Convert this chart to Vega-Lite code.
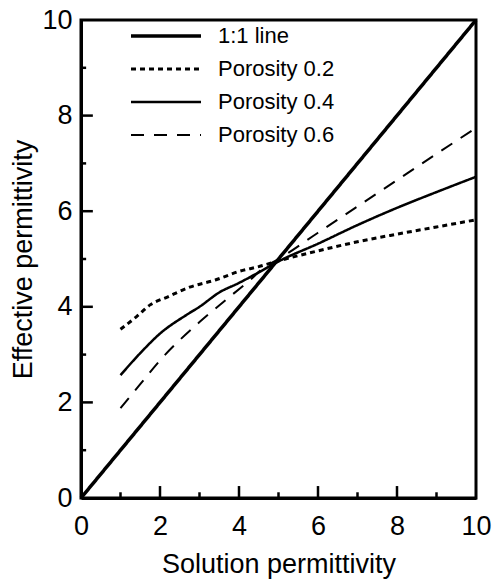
{
  "$schema": "https://vega.github.io/schema/vega-lite/v6.json",
  "autosize": "none",
  "width": 395,
  "height": 478,
  "padding": {"left": 81, "top": 20, "right": 16, "bottom": 83},
  "background": "white",
  "config": {
    "view": {"stroke": "black", "strokeWidth": 3},
    "font": "Liberation Sans",
    "axis": {"domainColor": "black", "domainWidth": 3, "ticks": false, "grid": false, "labelColor": "black", "titleColor": "black", "labelFont": "Liberation Sans", "titleFont": "Liberation Sans", "labelFontSize": 27, "titleFontSize": 27, "titleFontWeight": "normal"}
  },
  "datasets": {
    "curves": [
      {"x": 1, "y": 3.53, "series": "Porosity 0.2"},
      {"x": 1.4, "y": 3.79, "series": "Porosity 0.2"},
      {"x": 1.75, "y": 4.04, "series": "Porosity 0.2"},
      {"x": 2.2, "y": 4.21, "series": "Porosity 0.2"},
      {"x": 2.75, "y": 4.41, "series": "Porosity 0.2"},
      {"x": 3.4, "y": 4.56, "series": "Porosity 0.2"},
      {"x": 4, "y": 4.74, "series": "Porosity 0.2"},
      {"x": 4.5, "y": 4.84, "series": "Porosity 0.2"},
      {"x": 5, "y": 4.96, "series": "Porosity 0.2"},
      {"x": 6, "y": 5.17, "series": "Porosity 0.2"},
      {"x": 7, "y": 5.36, "series": "Porosity 0.2"},
      {"x": 8, "y": 5.52, "series": "Porosity 0.2"},
      {"x": 9, "y": 5.67, "series": "Porosity 0.2"},
      {"x": 10, "y": 5.82, "series": "Porosity 0.2"},
      {"x": 1, "y": 2.57, "series": "Porosity 0.4"},
      {"x": 1.5, "y": 3.03, "series": "Porosity 0.4"},
      {"x": 2, "y": 3.44, "series": "Porosity 0.4"},
      {"x": 2.67, "y": 3.83, "series": "Porosity 0.4"},
      {"x": 3, "y": 4.0, "series": "Porosity 0.4"},
      {"x": 3.5, "y": 4.3, "series": "Porosity 0.4"},
      {"x": 4, "y": 4.5, "series": "Porosity 0.4"},
      {"x": 4.5, "y": 4.72, "series": "Porosity 0.4"},
      {"x": 5, "y": 4.95, "series": "Porosity 0.4"},
      {"x": 6, "y": 5.32, "series": "Porosity 0.4"},
      {"x": 7, "y": 5.71, "series": "Porosity 0.4"},
      {"x": 8, "y": 6.07, "series": "Porosity 0.4"},
      {"x": 9, "y": 6.4, "series": "Porosity 0.4"},
      {"x": 10, "y": 6.72, "series": "Porosity 0.4"},
      {"x": 1, "y": 1.88, "series": "Porosity 0.6"},
      {"x": 1.5, "y": 2.38, "series": "Porosity 0.6"},
      {"x": 2, "y": 2.88, "series": "Porosity 0.6"},
      {"x": 3, "y": 3.68, "series": "Porosity 0.6"},
      {"x": 3.66, "y": 4.14, "series": "Porosity 0.6"},
      {"x": 4.28, "y": 4.56, "series": "Porosity 0.6"},
      {"x": 4.66, "y": 4.84, "series": "Porosity 0.6"},
      {"x": 5, "y": 5.0, "series": "Porosity 0.6"},
      {"x": 6, "y": 5.55, "series": "Porosity 0.6"},
      {"x": 7, "y": 6.1, "series": "Porosity 0.6"},
      {"x": 8, "y": 6.65, "series": "Porosity 0.6"},
      {"x": 9, "y": 7.2, "series": "Porosity 0.6"},
      {"x": 10, "y": 7.74, "series": "Porosity 0.6"}
    ],
    "oneToOne": [
      {"x": 0, "y": 0, "series": "1:1 line"},
      {"x": 10, "y": 10, "series": "1:1 line"}
    ],
    "ticks": [
      {"v": 1, "kind": "minor"},
      {"v": 2, "kind": "major"},
      {"v": 3, "kind": "minor"},
      {"v": 4, "kind": "major"},
      {"v": 5, "kind": "minor"},
      {"v": 6, "kind": "major"},
      {"v": 7, "kind": "minor"},
      {"v": 8, "kind": "major"},
      {"v": 9, "kind": "minor"}
    ]
  },
  "layer": [
    {
      "data": {"name": "curves"},
      "mark": {"type": "line", "color": "black", "clip": true, "interpolate": "monotone"},
      "encoding": {
        "x": {"field": "x", "type": "quantitative", "scale": {"domain": [0, 10], "nice": false, "zero": false},
          "axis": {"values": [0, 2, 4, 6, 8, 10], "labelPadding": 15, "title": "Solution permittivity", "titlePadding": 12, "labelFlush": false, "orient": "bottom"}},
        "y": {"field": "y", "type": "quantitative", "scale": {"domain": [0, 10], "nice": false, "zero": false},
          "axis": {"values": [0, 2, 4, 6, 8, 10], "labelPadding": 9, "title": "Effective permittivity", "titlePadding": 4, "labelFlush": false, "orient": "left"}},
        "strokeDash": {"field": "series", "type": "nominal",
          "scale": {"domain": ["1:1 line", "Porosity 0.2", "Porosity 0.4", "Porosity 0.6"], "range": [[1, 0], [5, 4], [1, 0], [13, 10]]},
          "legend": {"title": null, "orient": "none", "legendX": 48, "legendY": 5, "symbolType": "stroke", "symbolSize": 4900, "symbolStrokeColor": "black", "labelFontSize": 22, "labelFont": "Liberation Sans", "labelColor": "black", "labelOffset": 15, "clipHeight": 22, "rowPadding": 11, "padding": 0}},
        "strokeWidth": {"field": "series", "type": "nominal",
          "scale": {"domain": ["1:1 line", "Porosity 0.2", "Porosity 0.4", "Porosity 0.6"], "range": [3.5, 2, 1.6, 2]},
          "legend": {"title": null, "orient": "none", "legendX": 48, "legendY": 5, "symbolType": "stroke", "symbolSize": 4900, "symbolStrokeColor": "black", "labelFontSize": 22, "labelFont": "Liberation Sans", "labelColor": "black", "labelOffset": 15, "clipHeight": 22, "rowPadding": 11, "padding": 0}}
      }
    },
    {
      "data": {"name": "oneToOne"},
      "mark": {"type": "line", "color": "black"},
      "encoding": {
        "x": {"field": "x", "type": "quantitative"},
        "y": {"field": "y", "type": "quantitative"},
        "strokeDash": {"field": "series", "type": "nominal"},
        "strokeWidth": {"field": "series", "type": "nominal"}
      }
    },
    {
      "data": {"name": "ticks"},
      "transform": [{"filter": "datum.kind === 'major'"}],
      "mark": {"type": "rule", "color": "black", "strokeWidth": 2.5},
      "encoding": {
        "x": {"field": "v", "type": "quantitative"},
        "y": {"datum": 0, "type": "quantitative"},
        "y2": {"datum": 0.25}
      }
    },
    {
      "data": {"name": "ticks"},
      "transform": [{"filter": "datum.kind === 'minor'"}],
      "mark": {"type": "rule", "color": "black", "strokeWidth": 2.5},
      "encoding": {
        "x": {"field": "v", "type": "quantitative"},
        "y": {"datum": 0, "type": "quantitative"},
        "y2": {"datum": 0.12}
      }
    },
    {
      "data": {"name": "ticks"},
      "transform": [{"filter": "datum.kind === 'major'"}],
      "mark": {"type": "rule", "color": "black", "strokeWidth": 2.5},
      "encoding": {
        "y": {"field": "v", "type": "quantitative"},
        "x": {"datum": 0, "type": "quantitative"},
        "x2": {"datum": 0.3}
      }
    },
    {
      "data": {"name": "ticks"},
      "transform": [{"filter": "datum.kind === 'minor'"}],
      "mark": {"type": "rule", "color": "black", "strokeWidth": 2.5},
      "encoding": {
        "y": {"field": "v", "type": "quantitative"},
        "x": {"datum": 0, "type": "quantitative"},
        "x2": {"datum": 0.13}
      }
    }
  ]
}
